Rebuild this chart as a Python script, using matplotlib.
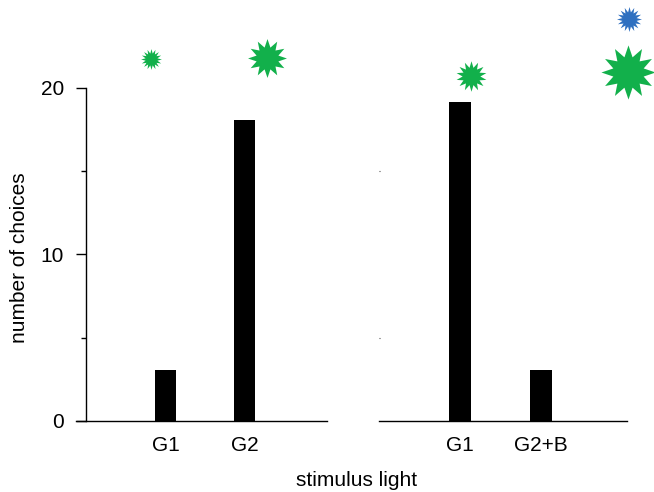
import matplotlib

matplotlib.use("Agg")
import matplotlib.pyplot as plt
from matplotlib.path import Path

plt.rcParams["font.family"] = ["Liberation Sans", "DejaVu Sans"]
plt.rcParams["font.size"] = 15

left_labels = ["G1", "G2"]
left_values = [3.05, 18.05]
right_labels = ["G1", "G2+B"]
right_values = [19.15, 3.05]

y_major = [0, 10, 20]
y_minor = [5, 15]

# stimulus stars, in category / count units of each panel
GREEN = "#12b04b"
BLUE = "#2f70c0"
left_stars_x = [-0.18, 1.29]
left_stars_y = [21.75, 21.8]
left_stars_size = [15, 28]
left_stars_points = [16, 12]
right_stars_x = [0.135, 2.07, 2.09]
right_stars_y = [20.7, 20.95, 24.15]
right_stars_size = [22, 39, 18]
right_stars_color = [GREEN, GREEN, BLUE]
right_stars_points = [14, 12, 16]

W, H = 654, 492


def px_axes(fig, x0, x1, y_top, y_bottom):
    return fig.add_axes([x0 / W, 1 - y_bottom / H, (x1 - x0) / W, (y_bottom - y_top) / H])


def draw_stars(ax, xs, ys, sizes, colors, points):
    for x, y, s, c, n in zip(xs, ys, sizes, colors, points):
        star = Path.unit_regular_star(n, innerCircle=0.58)
        ax.plot([x], [y], marker=star, ms=s, color=c, mec="none", ls="none", clip_on=False)


fig = plt.figure(figsize=(W / 100, H / 100), dpi=100)

ax1 = px_axes(fig, 76, 327, 88, 421)
ax1.bar(range(2), left_values, width=0.266, color="black")
ax1.set_xlim(-1.133, 2.044)
ax1.set_ylim(0, 20)
ax1.set_xticks(range(2), left_labels)
ax1.set_yticks(y_major)
ax1.set_yticks(y_minor, minor=True)
ax1.spines["left"].set_position(("outward", -7.4))
ax1.spines["left"].set_linewidth(1.0)
ax1.spines["bottom"].set_linewidth(1.0)
for side in ("top", "right"):
    ax1.spines[side].set_visible(False)
ax1.tick_params(axis="x", length=0, pad=10.5)
ax1.tick_params(axis="y", which="major", length=7.4, width=1.0, pad=8.5, direction="out")
ax1.tick_params(axis="y", which="minor", length=3.6, width=1.0, direction="out")
ax1.set_ylabel("number of choices")
ax1.yaxis.set_label_coords(-0.187, 0.489)
draw_stars(ax1, left_stars_x, left_stars_y, left_stars_size, [GREEN, GREEN], left_stars_points)

ax2 = px_axes(fig, 379, 627, 88, 421)
ax2.bar(range(2), right_values, width=0.26, color="black")
ax2.set_xlim(-1.0, 2.062)
ax2.set_ylim(0, 20)
ax2.set_xticks(range(2), right_labels)
ax2.set_yticks(y_minor, labels=[])
ax2.spines["bottom"].set_linewidth(1.0)
for side in ("top", "right", "left"):
    ax2.spines[side].set_visible(False)
ax2.tick_params(axis="x", length=0, pad=10.5)
ax2.tick_params(axis="y", length=0.8, width=0.8, direction="in", color="#444444")
draw_stars(ax2, right_stars_x, right_stars_y, right_stars_size, right_stars_color, right_stars_points)

fig.text(357 / W, 1 - 480 / H, "stimulus light", ha="center", va="center")

fig.savefig("out.png", dpi=100)
plt.close(fig)
